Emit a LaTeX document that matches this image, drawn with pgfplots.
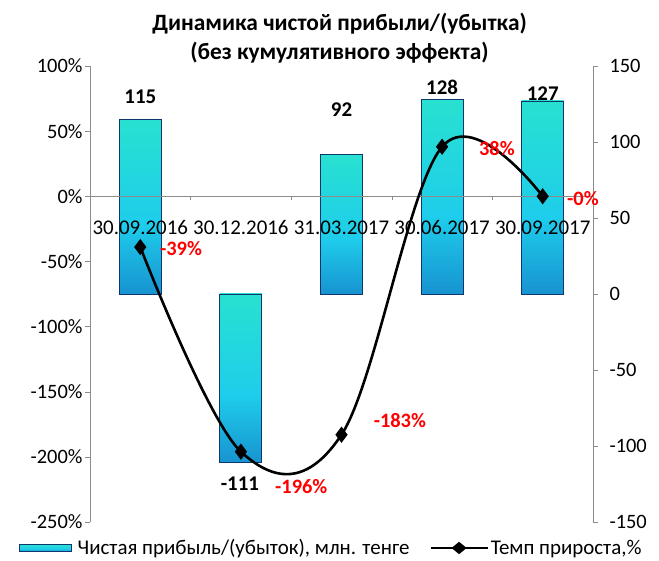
\documentclass[border=0pt]{standalone}
\usepackage{pgfplots}
\pgfplotsset{compat=1.18}
\usepackage{fontspec}
\setmainfont{Carlito}
\definecolor{bartop}{RGB}{45,235,195}
\definecolor{barmid}{RGB}{30,205,235}
\definecolor{barbot}{RGB}{15,75,175}
\definecolor{baredge}{RGB}{15,55,110}
\definecolor{axgray}{RGB}{140,140,140}
\pgfdeclareverticalshading{barshade}{100bp}{color(0bp)=(barbot); color(45bp)=(barmid); color(90bp)=(bartop); color(100bp)=(bartop)}
\pgfplotsset{barst/.style={ybar, bar width=42bp, bar shift=0pt, shade, shading=barshade, draw=baredge, line width=0.9bp}}
\begin{document}
\begin{tikzpicture}
\useasboundingbox (-90bp,-39bp) rectangle (569bp,522bp);
% bars, right axis
\begin{axis}[
  scale only axis, width=503bp, height=456bp,
  xmin=-0.5, xmax=4.5, ymin=-150, ymax=150,
  axis y line*=right, axis x line=none,
  axis line style={draw=axgray,-},
  ytick={-150,-100,...,150},
  tick align=outside, major tick length=5bp,
  tick style={draw=axgray},
  yticklabel style={font=\fontsize{20.5}{24}\selectfont, anchor=west, xshift=8bp},
  /pgf/number format/assume math mode=true,
  clip=false,
]
\addplot[barst] coordinates {(0,115)};
\addplot[barst] coordinates {(1,-111)};
\addplot[barst] coordinates {(2,92)};
\addplot[barst] coordinates {(3,128)};
\addplot[barst] coordinates {(4,127)};
\node[font=\bfseries\fontsize{21}{24}\selectfont] at (axis cs:0,130) {115};
\node[font=\bfseries\fontsize{21}{24}\selectfont] at (axis cs:0.99,-125) {-111};
\node[font=\bfseries\fontsize{21}{24}\selectfont] at (axis cs:2,121) {92};
\node[font=\bfseries\fontsize{21}{24}\selectfont] at (axis cs:3,136) {128};
\node[font=\bfseries\fontsize{21}{24}\selectfont] at (axis cs:4,132) {127};
\end{axis}
% line, left axis
\begin{axis}[
  scale only axis, width=503bp, height=456bp,
  xmin=-0.5, xmax=4.5, ymin=-250, ymax=100,
  axis y line*=left, axis x line*=middle,
  axis line style={draw=axgray,-},
  ytick={-250,-200,...,100},
  yticklabel={\pgfmathprintnumber{\tick}\%},
  xtick={0,1,2,3,4},
  xticklabels={30.09.2016,30.12.2016,31.03.2017,30.06.2017,30.09.2017},
  major x tick style={draw=none},
  tick align=outside, major tick length=5bp,
  tick style={draw=axgray},
  yticklabel style={font=\fontsize{20.5}{24}\selectfont, xshift=1bp},
  xticklabel style={font=\fontsize{21}{24}\selectfont, yshift=-16bp},
  /pgf/number format/assume math mode=true,
  clip=false,
  legend columns=2,
  legend style={draw=none, fill=none, at={(0.48,-0.057)}, anchor=center,
    font=\fontsize{21}{24}\selectfont, /tikz/every even column/.append style={column sep=18bp},
    /tikz/every odd column/.append style={column sep=0bp}},
]
\addlegendimage{legend image code/.code={\path[shade, shading=barshade, draw=baredge, line width=0.4bp] (0bp,-3.5bp) rectangle (52bp,3.5bp); \path[draw=none, fill=none, shade=false] (56bp,0bp) circle[radius=0.1bp];}}
\addlegendentry{Чистая прибыль/(убыток), млн. тенге}
\draw[axgray] (axis cs:0.5,0) -- ++(0pt,-4bp);
\draw[axgray] (axis cs:1.5,0) -- ++(0pt,-4bp);
\draw[axgray] (axis cs:2.5,0) -- ++(0pt,-4bp);
\draw[axgray] (axis cs:3.5,0) -- ++(0pt,-4bp);
\addplot[black, line width=2.6bp, smooth, tension=0.6, mark=diamond*, mark size=6bp,
  legend image code/.code={\draw[black, line width=2.4bp] (0bp,0bp) -- (57bp,0bp); \fill[black] (28.5bp,0bp) +(-5.5bp,0bp) -- +(0bp,4.5bp) -- +(5.5bp,0bp) -- +(0bp,-4.5bp) -- cycle;}]
  coordinates {(0,-39) (1,-196) (2,-183) (3,38) (4,0)};
\addlegendentry{Темп прироста,\%}
\node[font=\bfseries\fontsize{20.5}{24}\selectfont, text=red] at (axis cs:0.405,-40) {-39\%};
\node[font=\bfseries\fontsize{20.5}{24}\selectfont, text=red] at (axis cs:1.6,-222.6) {-196\%};
\node[font=\bfseries\fontsize{20.5}{24}\selectfont, text=red] at (axis cs:2.58,-172) {-183\%};
\node[font=\bfseries\fontsize{20.5}{24}\selectfont, text=red] at (axis cs:3.545,37) {38\%};
\node[font=\bfseries\fontsize{20.5}{24}\selectfont, text=red] at (axis cs:4.40,-1.5) {-0\%};
\end{axis}
\node[font=\bfseries\fontsize{23.5}{29}\selectfont, align=center] at (249.5bp,484bp)
  {Динамика чистой прибыли/(убытка)\\(без кумулятивного эффекта)};
\end{tikzpicture}
\end{document}
